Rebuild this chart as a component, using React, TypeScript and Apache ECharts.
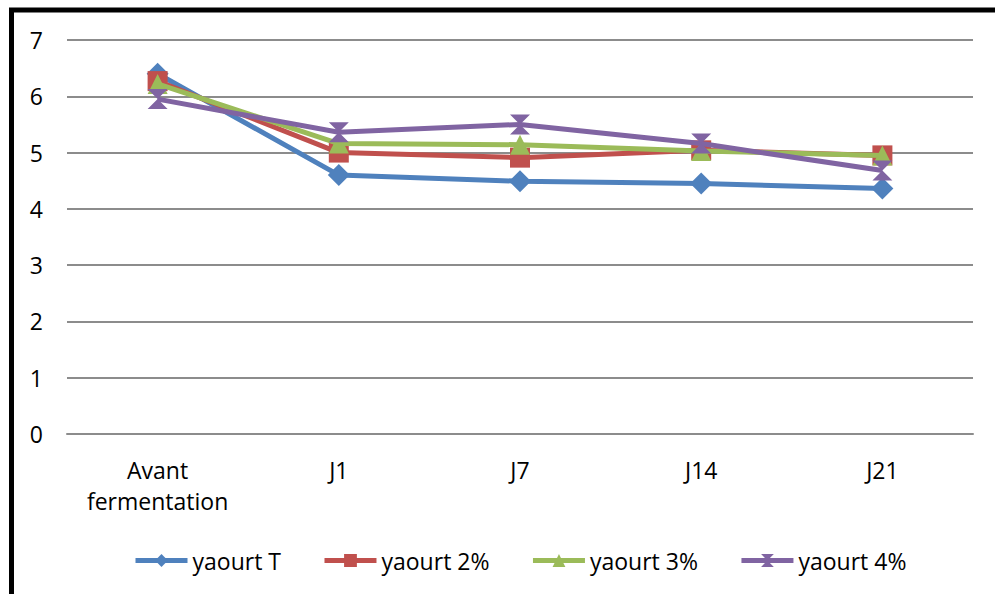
import React, { useEffect, useRef } from "react";
import * as echarts from "echarts";

const categories = ["Avant\nfermentation", "J1", "J7", "J14", "J21"];
const seriesNames = ["yaourt T", "yaourt 2%", "yaourt 3%", "yaourt 4%"];
const yaourtT = [6.4, 4.6, 4.49, 4.45, 4.36];
const yaourt2 = [6.27, 5.0, 4.91, 5.04, 4.95];
const yaourt3 = [6.22, 5.16, 5.14, 5.03, 4.95];
const yaourt4 = [5.95, 5.36, 5.5, 5.16, 4.68];
const yTicks = [0, 1, 2, 3, 4, 5, 6, 7];

const colors = ["#4F81BD", "#C0504D", "#9BBB59", "#8064A2"];
const symbols = [
  "diamond",
  "rect",
  "triangle",
  "path://M0,0 L10,0 L5,5 L10,10 L0,10 L5,5 Z",
];
const symbolSizes = [22, 20, 20, 20];
const FONT = "'Open Sans', 'Liberation Sans', sans-serif";

export default function App() {
  const ref = useRef<HTMLDivElement>(null);
  useEffect(() => {
    if (!ref.current) return;
    const chart = echarts.init(ref.current, null, { renderer: "svg" });
    const data = [yaourtT, yaourt2, yaourt3, yaourt4];
    chart.setOption({
      animation: false,
      backgroundColor: "#ffffff",
      grid: { left: 67, right: 22, top: 40, bottom: 160, containLabel: false },
      legend: {
        top: 544,
        left: 128,
        itemWidth: 52,
        itemHeight: 16,
        itemGap: 41,
        lineStyle: { width: 5 },
        textStyle: { fontFamily: FONT, fontSize: 23, color: "#000" },
        data: seriesNames,
      },
      xAxis: {
        type: "category",
        data: categories,
        boundaryGap: true,
        axisLine: { show: true, lineStyle: { color: "#8c8c8c", width: 2 } },
        axisTick: { show: false },
        axisLabel: {
          fontFamily: FONT,
          fontSize: 23,
          color: "#000",
          margin: 20,
          lineHeight: 31,
          interval: 0,
        },
      },
      yAxis: {
        type: "value",
        min: yTicks[0],
        max: yTicks[yTicks.length - 1],
        interval: 1,
        axisLine: { show: false },
        axisTick: { show: false },
        splitLine: { lineStyle: { color: "#8c8c8c", width: 2 } },
        axisLabel: {
          fontFamily: FONT,
          fontSize: 23,
          color: "#000",
          margin: 24,
        },
      },
      graphic: [
        {
          type: "line",
          shape: { x1: 11.5, y1: 8, x2: 11.5, y2: 594 },
          style: { stroke: "#000", lineWidth: 5 },
          silent: true,
        },
        {
          type: "line",
          shape: { x1: 9, y1: 10, x2: 995, y2: 10 },
          style: { stroke: "#000", lineWidth: 5 },
          silent: true,
        },
      ],
      series: seriesNames.map((name, i) => ({
        name,
        type: "line",
        data: data[i],
        symbol: symbols[i],
        symbolSize: symbolSizes[i],
        showAllSymbol: true,
        lineStyle: { color: colors[i], width: 5 },
        itemStyle: { color: colors[i] },
        z: 2 + i,
      })),
    });
    return () => chart.dispose();
  }, []);
  return (
    <div
      ref={ref}
      style={{ position: "fixed", left: 0, top: 0, width: 995, height: 594 }}
    />
  );
}
